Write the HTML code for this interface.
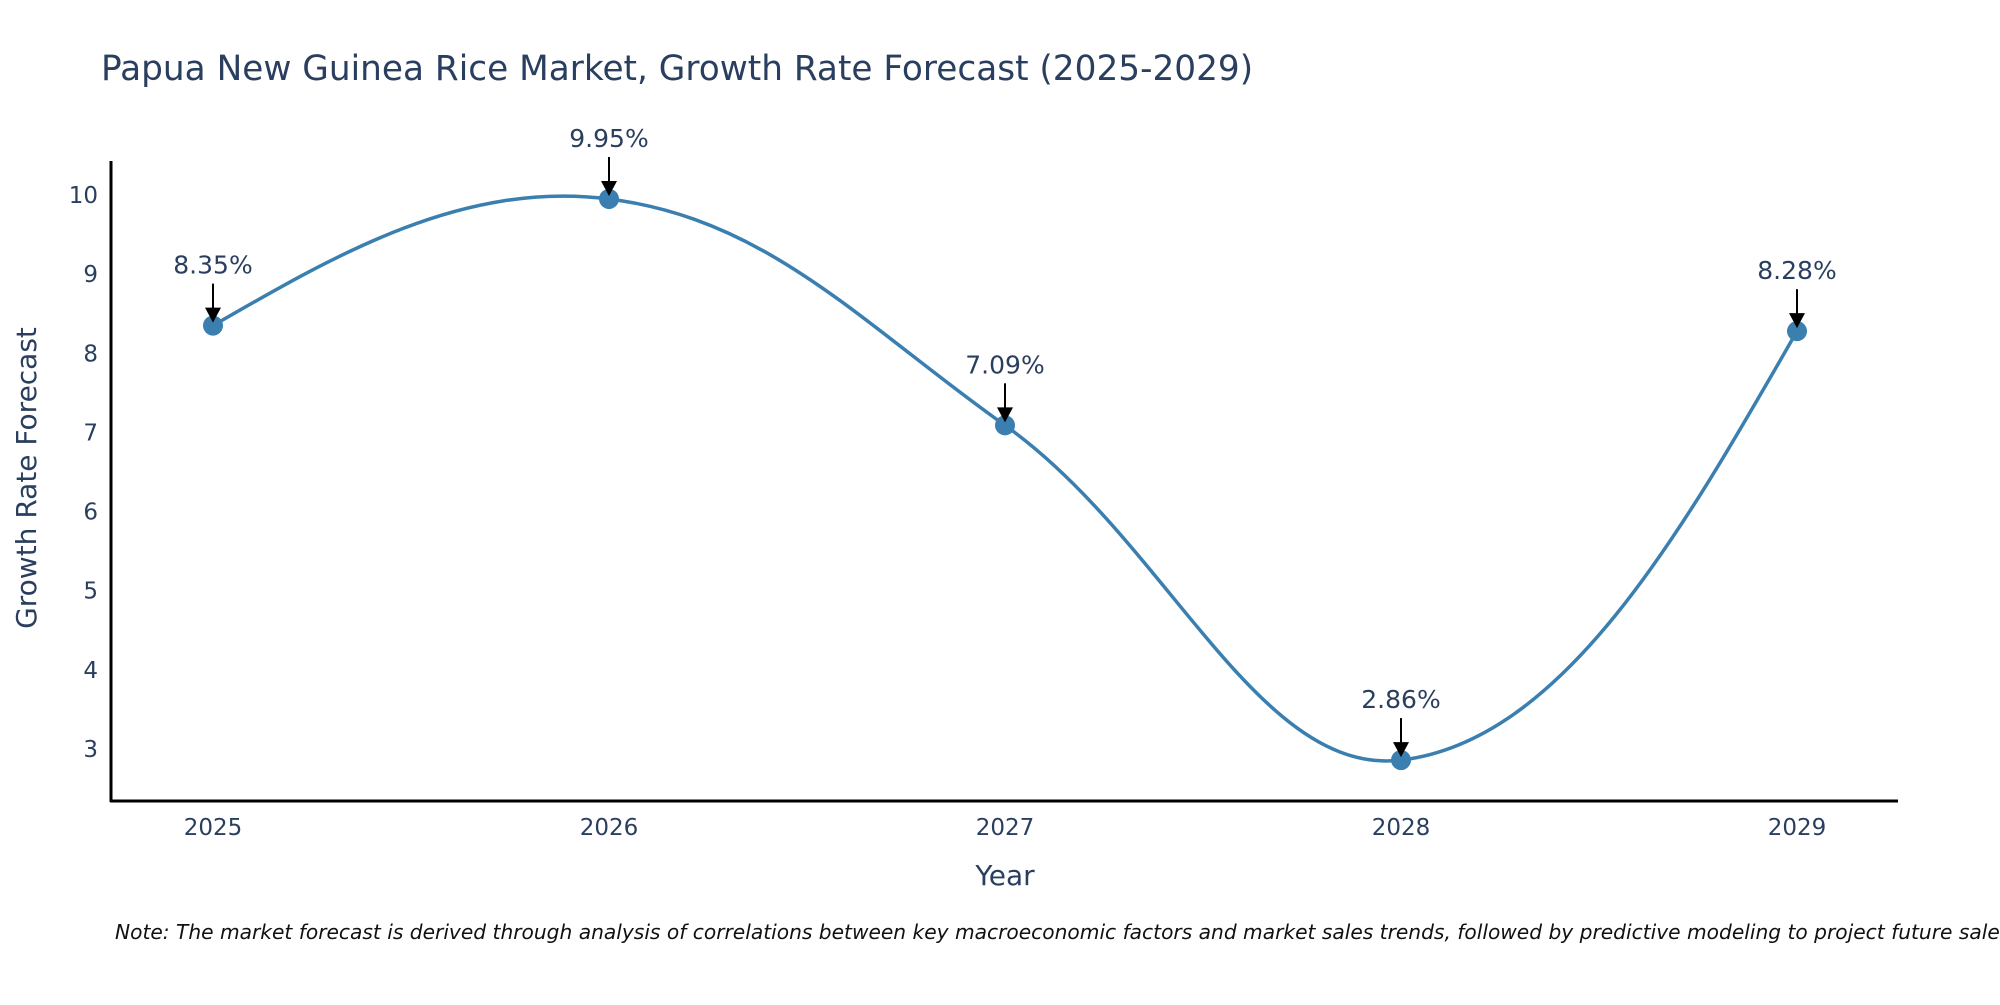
<!DOCTYPE html>
<html><head><meta charset="utf-8"><style>
body{margin:0;background:#fff;width:2000px;height:1000px;overflow:hidden;font-family:"Liberation Sans","DejaVu Sans",sans-serif}
</style></head><body>
<svg id="chart" width="2000" height="1000" xmlns="http://www.w3.org/2000/svg">
<text x="101" y="80" font-size="34.3" fill="#2a3f5f" font-family="DejaVu Sans, sans-serif">Papua New Guinea Rice Market, Growth Rate Forecast (2025-2029)</text>
<g id="marks"></g>
<line x1="111" y1="161" x2="111" y2="802" stroke="#000" stroke-width="3"/>
<line x1="110" y1="801" x2="1898" y2="801" stroke="#000" stroke-width="3"/>
<text x="1005" y="885" font-size="28" fill="#2a3f5f" text-anchor="middle" font-family="DejaVu Sans, sans-serif">Year</text>
<text transform="translate(36,478) rotate(-90)" font-size="28" fill="#2a3f5f" text-anchor="middle" font-family="DejaVu Sans, sans-serif">Growth Rate Forecast</text>
<text x="115" y="939" font-size="20.2" font-style="italic" fill="#111" font-family="DejaVu Sans, sans-serif">Note: The market forecast is derived through analysis of correlations between key macroeconomic factors and market sales trends, followed by predictive modeling to project future sales</text>
</svg>
<script>
const years=[2025,2026,2027,2028,2029];
const values=[8.35,9.95,7.09,2.86,8.28];
const labels=["8.35%","9.95%","7.09%","2.86%","8.28%"];
const yTicks=[3,4,5,6,7,8,9,10];
const NS="http://www.w3.org/2000/svg";
const g=document.getElementById('marks');
function xs(i){return 213+i*396;}
function ys(v){return 749-(v-3)*79.14;}
function mk(t,a){const e=document.createElementNS(NS,t);for(const k in a)e.setAttribute(k,a[k]);g.appendChild(e);return e;}
yTicks.forEach(t=>{
  const e=mk('text',{x:98,y:ys(t)+8,'font-size':23,fill:'#2a3f5f','text-anchor':'end','font-family':'DejaVu Sans, sans-serif'});
  
  
  e.textContent=t;
});
years.forEach((y,i)=>{
  const e=mk('text',{x:xs(i),y:835,'font-size':23,fill:'#2a3f5f','text-anchor':'middle','font-family':'DejaVu Sans, sans-serif'});
  
  
  e.textContent=y;
});
const pts=values.map((v,i)=>[xs(i),ys(v)]);
const n=pts.length;
const ctrl=pts.map((p,i)=>{
  if(i===0||i===n-1)return {b:p,a:p};
  const p0=pts[i-1],p2=pts[i+1];
  const d1=Math.hypot(p[0]-p0[0],p[1]-p0[1]),d2=Math.hypot(p2[0]-p[0],p2[1]-p[1]);
  const dx=p2[0]-p0[0],dy=p2[1]-p0[1];
  const f1=d1/(d1+d2)/2.6,f2=d2/(d1+d2)/2.6;
  return {b:[p[0]-dx*f1,p[1]-dy*f1],a:[p[0]+dx*f2,p[1]+dy*f2]};
});
let d='M'+pts[0][0]+','+pts[0][1];
for(let i=0;i<n-1;i++){
  let c1=ctrl[i].a,c2=ctrl[i+1].b;
  if(i===0)c1=[pts[0][0]+(c2[0]-pts[0][0])/2,pts[0][1]+(c2[1]-pts[0][1])/2];
  if(i===n-2)c2=[pts[n-1][0]+(c1[0]-pts[n-1][0])/2,pts[n-1][1]+(c1[1]-pts[n-1][1])/2];
  d+=' C'+c1+' '+c2+' '+pts[i+1];
}
const line=mk('path',{d:d,fill:'none',stroke:'#3a7fb0','stroke-width':3.5});


pts.forEach((p,i)=>{
  const c=mk('circle',{cx:p[0],cy:p[1],r:10,fill:'#3a7fb0'});
  
  
  const a=mk('line',{x1:p[0],y1:p[1]-42,x2:p[0],y2:p[1]-16,stroke:'#000','stroke-width':2});
  
  
  const h=mk('polygon',{points:(p[0]-8)+','+(p[1]-18)+' '+(p[0]+8)+','+(p[1]-18)+' '+p[0]+','+(p[1]-3),fill:'#000'});
  
  
  const t=mk('text',{x:p[0],y:p[1]-52,'font-size':25,fill:'#2a3f5f','text-anchor':'middle','font-family':'DejaVu Sans, sans-serif'});
  
  
  t.textContent=labels[i];
});
</script>
</body></html>
